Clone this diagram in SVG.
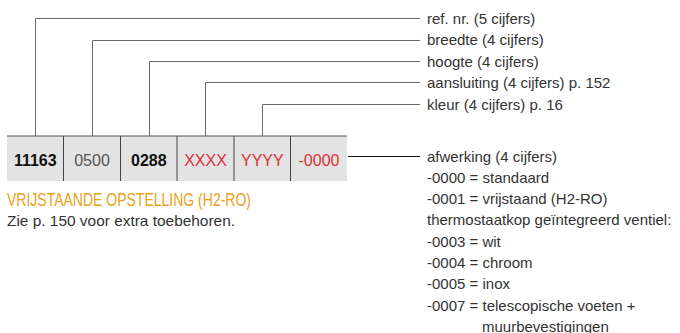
<svg xmlns="http://www.w3.org/2000/svg" width="680" height="333" viewBox="0 0 680 333">
<style>
.lbl{font-family:"Liberation Sans",Arial,sans-serif;font-size:15px;fill:#333}
.cell{font-family:"Liberation Sans",Arial,sans-serif;font-size:16px;text-anchor:middle}
.b{font-weight:bold;fill:#111}
.g{fill:#555}
.r{fill:#e0303a}
.con{fill:none;stroke:#6a6a6a;stroke-width:1}
.div{stroke:#444;stroke-width:1}
</style>
<rect width="680" height="333" fill="#fff"/>
<g id="connectors">
<polyline class="con" points="35.5,136 35.5,18.5 420,18.5"/>
<polyline class="con" points="92.5,136 92.5,40.5 420,40.5"/>
<polyline class="con" points="149.5,136 149.5,61.5 420,61.5"/>
<polyline class="con" points="205.5,136 205.5,82.5 420,82.5"/>
<polyline class="con" points="262.5,136 262.5,104.5 420,104.5"/>
<line x1="348" y1="156.5" x2="420" y2="156.5" stroke="#111" stroke-width="1"/>
</g>
<g id="code-bar">
<rect x="7" y="136" width="340" height="45" fill="#e3e3e3"/>
<line x1="7" y1="136" x2="347" y2="136" stroke="#555" stroke-width="1.2"/>
<line class="div" x1="63.5" y1="136" x2="63.5" y2="181"/>
<line class="div" x1="120.5" y1="136" x2="120.5" y2="181"/>
<line class="div" x1="177" y1="136" x2="177" y2="181"/>
<line class="div" x1="234" y1="136" x2="234" y2="181"/>
<line class="div" x1="290.5" y1="136" x2="290.5" y2="181"/>
</g>
<g id="cell-ref"><text class="cell b" x="35.3" y="165.5">11163</text></g>
<g id="cell-breedte"><text class="cell g" x="92" y="165.5">0500</text></g>
<g id="cell-hoogte"><text class="cell b" x="148.8" y="165.5">0288</text></g>
<g id="cell-aansluiting"><text class="cell r" x="205.5" y="165.5">XXXX</text></g>
<g id="cell-kleur"><text class="cell r" x="262.3" y="165.5">YYYY</text></g>
<g id="cell-afwerking"><text class="cell r" x="319" y="165.5">-0000</text></g>
<g id="label-ref"><text class="lbl" x="427" y="23.5">ref. nr. (5 cijfers)</text></g>
<g id="label-breedte"><text class="lbl" x="427" y="45">breedte (4 cijfers)</text></g>
<g id="label-hoogte"><text class="lbl" x="427" y="66.5">hoogte (4 cijfers)</text></g>
<g id="label-aansluiting"><text class="lbl" x="427" y="88">aansluiting (4 cijfers) p. 152</text></g>
<g id="label-kleur"><text class="lbl" x="427" y="109.5">kleur (4 cijfers) p. 16</text></g>
<g id="label-afwerking">
<text class="lbl" x="427" y="161.5">afwerking (4 cijfers)</text>
<text class="lbl" x="427" y="182.8">-0000 = standaard</text>
<text class="lbl" x="427" y="204.1">-0001 = vrijstaand (H2-RO)</text>
<text class="lbl" x="427" y="225.4">thermostaatkop geïntegreerd ventiel:</text>
<text class="lbl" x="427" y="246.7">-0003 = wit</text>
<text class="lbl" x="427" y="268">-0004 = chroom</text>
<text class="lbl" x="427" y="289.3">-0005 = inox</text>
<text class="lbl" x="427" y="310.6">-0007 = telescopische voeten +</text>
<text class="lbl" x="482" y="331.5">muurbevestigingen</text>
</g>
<g id="title">
<text x="7" y="206" font-family="'Liberation Sans',Arial,sans-serif" font-size="17.5px" fill="#e9a11a" textLength="244" lengthAdjust="spacingAndGlyphs">VRIJSTAANDE OPSTELLING (H2-RO)</text>
<text class="lbl" x="7" y="225.5" textLength="228" lengthAdjust="spacingAndGlyphs">Zie p. 150 voor extra toebehoren.</text>
</g>
</svg>
